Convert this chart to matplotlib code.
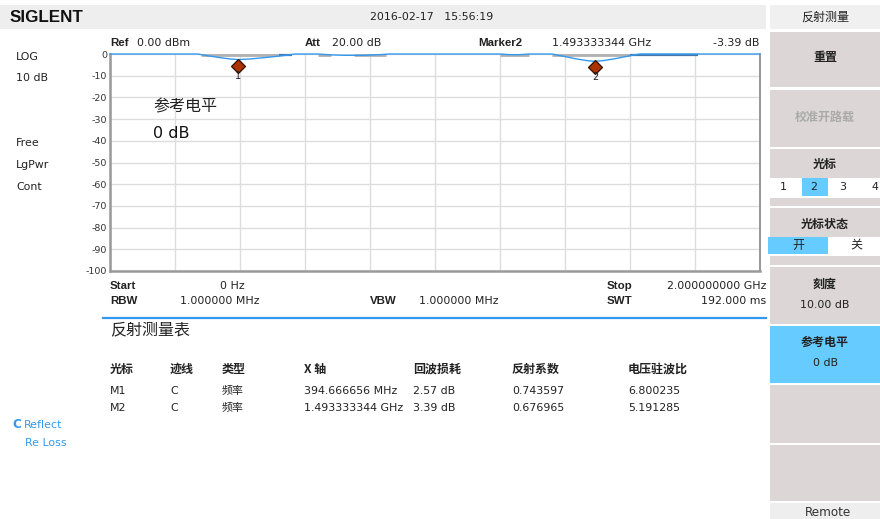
import matplotlib
matplotlib.use("Agg")
import matplotlib.pyplot as plt
from matplotlib.patches import Rectangle
from matplotlib.transforms import offset_copy

plt.rcParams['font.family'] = ['DejaVu Sans', 'Noto Sans CJK SC']
CJK = ['Noto Sans CJK SC', 'DejaVu Sans']

# ---------------- data ----------------
trace_freq_ghz = [0.0, 0.27, 0.30, 0.34, 0.37, 0.395, 0.43, 0.48, 0.53, 0.57, 0.64, 0.68, 0.72,
                  0.78, 0.83, 0.86, 1.20, 1.23, 1.26, 1.29, 1.36, 1.40, 1.44, 1.47, 1.493,
                  1.52, 1.56, 1.60, 1.63, 2.0]
trace_db = [0.0, 0.0, -0.8, -1.7, -2.3, -2.57, -2.3, -1.6, -0.8, 0.0, 0.0, -0.4, -0.6,
            -0.6, -0.3, 0.0, 0.0, -0.3, -0.3, 0.0, 0.0, -1.2, -2.4, -3.1, -3.39,
            -3.0, -2.0, -0.8, 0.0, 0.0]
gray_segments_ghz = [(0.28, 0.52), (0.64, 0.68), (0.75, 0.85), (1.20, 1.29), (1.36, 1.60)]
dark_segments_ghz = [(0.52, 0.56), (1.60, 1.81)]

marker_ids = ['1', '2']
marker_freq_ghz = [0.394666656, 1.493333344]
marker_db = [-2.57, -3.39]

y_ticks = [0, -10, -20, -30, -40, -50, -60, -70, -80, -90, -100]
x_ticks_ghz = [0.0, 0.2, 0.4, 0.6, 0.8, 1.0, 1.2, 1.4, 1.6, 1.8, 2.0]

table_headers = ['光标', '迹线', '类型', 'X 轴', '回波损耗', '反射系数', '电压驻波比']
table_rows = [
    ['M1', 'C', '频率', '394.666656 MHz', '2.57 dB', '0.743597', '6.800235'],
    ['M2', 'C', '频率', '1.493333344 GHz', '3.39 dB', '0.676965', '5.191285'],
]
left_labels = ['LOG', '10 dB', 'Free', 'LgPwr', 'Cont']
marker_tabs = ['1', '2', '3', '4']

# ---------------- figure ----------------
W, H = 880, 519
fig = plt.figure(figsize=(W / 100, H / 100), dpi=100)
fig.patch.set_facecolor('white')


def fx(x):
    return x / W


def fy(y):
    return 1 - y / H


def rect(x0, y0, x1, y1, color, z=0):
    fig.patches.append(Rectangle((fx(x0), fy(y1)), (x1 - x0) / W, (y1 - y0) / H,
                                 transform=fig.transFigure, facecolor=color,
                                 edgecolor='none', zorder=z))


def txt(x, y, s, px=11, ha='left', va='center', weight='normal', color='#222222', family=None):
    kw = {}
    if family is not None:
        kw['family'] = family
    fig.text(fx(x), fy(y), s, fontsize=px * 0.72, ha=ha, va=va, weight=weight,
             color=color, **kw)


# header bar
rect(0, 5, 766, 29, '#eeeeee')
txt(10, 17, 'SIGLENT', px=17, weight='heavy', color='#111111', family=['Liberation Sans', 'DejaVu Sans'])
txt(432, 17, '2016-02-17   15:56:19', px=11, ha='center')

# right panel
btn = '#ddd6d6'
rect(770, 5, 880, 29, '#f0f0f0')
txt(825, 17, '反射测量', px=12, ha='center', family=CJK)
rect(770, 32, 880, 87, btn)
txt(825, 58, '重置', px=12, ha='center', weight='bold', family=CJK)
rect(770, 90, 880, 147, btn)
txt(825, 117, '校准开路载', px=12, ha='center', color='#aaaaaa', weight='bold', family=CJK)
rect(770, 149, 880, 178, btn)
txt(825, 164, '光标', px=12, ha='center', weight='bold', family=CJK)
tab_x = [(771, 799), (802, 828), (830, 856), (858, 880)]
tab_tx = [783, 814, 843, 875]
for i, lab in enumerate(marker_tabs):
    rect(tab_x[i][0], 178, tab_x[i][1], 196, '#66ccff' if lab == '2' else 'white')
    txt(tab_tx[i], 187, lab, px=11, ha='center')
rect(770, 198, 880, 206, btn)
rect(770, 208, 880, 237, btn)
txt(825, 224, '光标状态', px=12, ha='center', weight='bold', family=CJK)
rect(768, 237, 828, 254, '#66ccff')
txt(798, 245, '开', px=12, ha='center', family=CJK)
txt(856, 245, '关', px=12, ha='center', family=CJK)
rect(770, 256, 880, 265, btn)
rect(770, 267, 880, 324, btn)
txt(825, 284, '刻度', px=12, ha='center', weight='bold', family=CJK)
txt(825, 305, '10.00 dB', px=11, ha='center')
rect(770, 326, 880, 383, '#66ccff')
txt(825, 342, '参考电平', px=12, ha='center', weight='bold', family=CJK)
txt(825, 363, '0 dB', px=11, ha='center')
rect(770, 385, 880, 443, btn)
rect(770, 445, 880, 501, btn)
rect(770, 503, 880, 519, '#eeeeee')
txt(828, 513, 'Remote', px=12, ha='center', color='#333333')

# left labels
left_y = [57, 78, 143, 165, 187]
for s, y in zip(left_labels, left_y):
    txt(16, y, s, px=11)
txt(12, 425, 'C', px=12, color='#3399ee', weight='bold')
txt(24, 425, 'Reflect', px=11, color='#3399ee')
txt(25, 443, 'Re Loss', px=11, color='#3399ee')

# plot header
bf = ['Liberation Sans', 'DejaVu Sans']
txt(110, 43, 'Ref', px=11.5, weight='bold', family=bf)
txt(137, 43, '0.00 dBm', px=11)
txt(305, 43, 'Att', px=11.5, weight='bold', family=bf)
txt(332, 43, '20.00 dB', px=11)
txt(478, 43, 'Marker2', px=11.5, weight='bold', family=bf)
txt(552, 43, '1.493333344 GHz', px=11)
txt(759, 43, '-3.39 dB', px=11, ha='right')

# plot footer
txt(110, 286, 'Start', px=11.5, weight='bold', family=bf)
txt(245, 286, '0 Hz', px=11, ha='right')
txt(607, 286, 'Stop', px=11.5, weight='bold', family=bf)
txt(766, 286, '2.000000000 GHz', px=11, ha='right')
txt(110, 301, 'RBW', px=11.5, weight='bold', family=bf)
txt(180, 301, '1.000000 MHz', px=11)
txt(370, 301, 'VBW', px=11.5, weight='bold', family=bf)
txt(419, 301, '1.000000 MHz', px=11)
txt(607, 301, 'SWT', px=11.5, weight='bold', family=bf)
txt(766, 301, '192.000 ms', px=11, ha='right')

fig.add_artist(plt.Line2D([fx(103), fx(766)], [fy(318), fy(318)], transform=fig.transFigure,
                          color='#3399ee', lw=1.6))

# table
txt(110, 330, '反射测量表', px=16, family=CJK)
col_x = [110, 170, 222, 304, 413, 512, 628]
for cx, h in zip(col_x, table_headers):
    txt(cx, 369, h, px=12, weight='bold', family=CJK)
for ry, row in zip([391, 408], table_rows):
    for cx, v in zip(col_x, row):
        txt(cx, ry, v, px=11, family=['DejaVu Sans', 'Noto Sans CJK SC'])

# ---------------- spectrum axes ----------------
ax = fig.add_axes([fx(110), fy(271), 650 / W, 217 / H])
ax.set_xlim(0, 2.0)
ax.set_ylim(-100, 0)
ax.set_xticks(x_ticks_ghz)
ax.set_xticklabels([])
ax.set_yticks(y_ticks)
ax.set_yticklabels([str(v) for v in y_ticks])
ax.tick_params(axis='both', length=0, pad=2)
ax.tick_params(axis='y', labelsize=9.5 * 0.72, labelcolor='#333333')
ax.grid(True, color='#dddddd', lw=1.0)
ax.set_axisbelow(True)
for side in ['left', 'bottom']:
    ax.spines[side].set_color('#999999')
    ax.spines[side].set_linewidth(1.8)
ax.spines['right'].set_color('#888888')
ax.spines['right'].set_linewidth(1.2)
ax.spines['top'].set_visible(False)
for a, b in gray_segments_ghz:
    ax.plot([a, b], [-0.3, -0.3], color='#b0b0b0', lw=2.0, solid_capstyle='butt', clip_on=False, zorder=2)
for a, b in dark_segments_ghz:
    ax.plot([a, b], [-0.3, -0.3], color='#4477aa', lw=1.6, solid_capstyle='butt', clip_on=False, zorder=2)
ax.plot(trace_freq_ghz, trace_db, color='#3399ee', lw=1.0, clip_on=False, zorder=3)

mk_tr = offset_copy(ax.transData, fig=fig, x=0, y=-4.3, units='points')
lb_tr = offset_copy(ax.transData, fig=fig, x=0, y=-11.5, units='points')
for mid, f, d in zip(marker_ids, marker_freq_ghz, marker_db):
    ax.plot([f], [d], marker='D', ms=7.5, color='#aa3300', mec='#331100', mew=0.9,
            transform=mk_tr, zorder=5, clip_on=False)
    ax.text(f, d, mid, transform=lb_tr, ha='center', va='center', fontsize=7,
            color='#222222', zorder=5)

ax.text(0.132, -24.5, '参考电平', fontsize=16 * 0.72, ha='left', va='center', color='#222222',
        family=CJK)
ax.text(0.132, -36.5, '0 dB', fontsize=16 * 0.72, ha='left', va='center', color='#111111')

fig.savefig('out.png', dpi=100)
